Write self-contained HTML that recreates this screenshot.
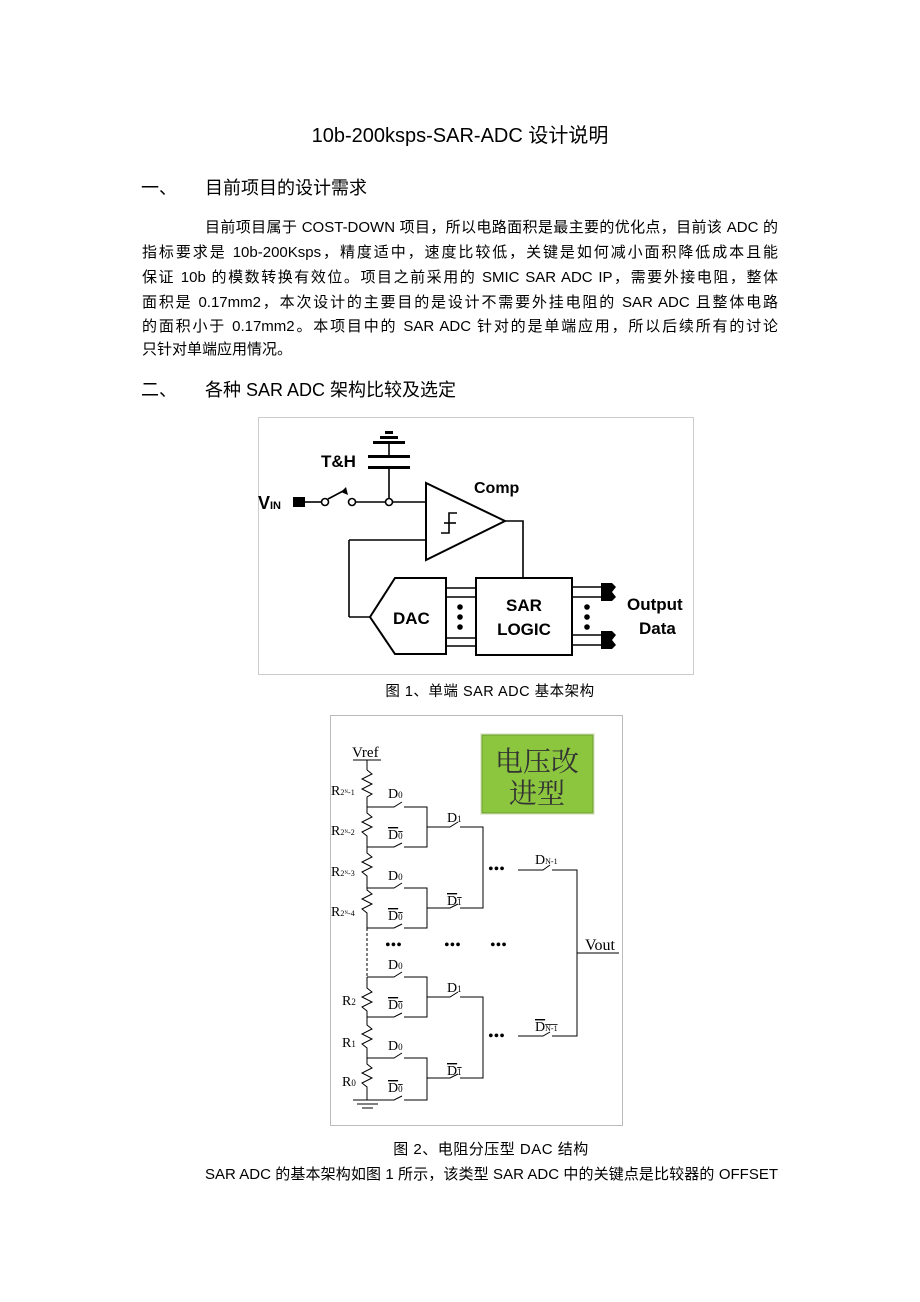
<!DOCTYPE html>
<html><head><meta charset="utf-8">
<style>
body{margin:0;width:920px;height:1302px;background:#fff;position:relative;font-family:"Liberation Sans","Noto Sans CJK SC",sans-serif;color:#000;overflow:hidden}
.t{position:absolute;white-space:nowrap;line-height:1}
.ln{position:absolute;left:142px;width:636px;font-size:15px;line-height:1;text-align:justify;text-align-last:justify;white-space:nowrap}
</style></head><body>
<div class="t" style="left:0;width:920px;text-align:center;top:126px;font-size:20px">10b-200ksps-SAR-ADC 设计说明</div>
<div class="t" style="left:141px;top:179px;font-size:18px">一、</div>
<div class="t" style="left:205px;top:179px;font-size:18px">目前项目的设计需求</div>
<div class="ln" style="top:220px;left:205px;width:573px">目前项目属于 COST-DOWN 项目，所以电路面积是最主要的优化点，目前该 ADC 的</div>
<div class="ln" style="top:245px">指标要求是 10b-200Ksps，精度适中，速度比较低，关键是如何减小面积降低成本且能</div>
<div class="ln" style="top:270px">保证 10b 的模数转换有效位。项目之前采用的 SMIC SAR ADC IP，需要外接电阻，整体</div>
<div class="ln" style="top:295px">面积是 0.17mm2，本次设计的主要目的是设计不需要外挂电阻的 SAR ADC 且整体电路</div>
<div class="ln" style="top:319px">的面积小于 0.17mm2。本项目中的 SAR ADC 针对的是单端应用，所以后续所有的讨论</div>
<div class="t" style="top:342px;left:142px;font-size:15px">只针对单端应用情况。</div>
<div class="t" style="left:141px;top:381px;font-size:18px">二、</div>
<div class="t" style="left:205px;top:381px;font-size:18px">各种 SAR ADC 架构比较及选定</div>

<svg style="position:absolute;left:0;top:0" width="920" height="1302" font-family="Liberation Sans, sans-serif">
<!-- fig1 -->
<rect x="258.5" y="417.5" width="435" height="257" fill="none" stroke="#ccc"/>
<g stroke="#000" stroke-width="1.6" fill="none">
<line x1="305" y1="502" x2="321" y2="502"/>
<circle cx="325" cy="502" r="3.5" fill="#fff"/>
<line x1="328" y1="499" x2="345" y2="490"/>
<circle cx="352" cy="502" r="3.5" fill="#fff"/>
<line x1="356" y1="502" x2="385" y2="502"/>
<circle cx="389" cy="502" r="3.5" fill="#fff"/>
<line x1="393" y1="502" x2="426" y2="502"/>
<line x1="389" y1="498" x2="389" y2="468"/>
<line x1="389" y1="457" x2="389" y2="443"/>
<line x1="349" y1="540" x2="426" y2="540"/>
<line x1="349" y1="540" x2="349" y2="617"/>
<line x1="349" y1="617" x2="370" y2="617"/>
<polyline points="505,521 523,521 523,578"/>
<polygon points="426,483 426,560 505,521" stroke-width="2"/>
<polyline points="441,533 449,533 449,513 457,513"/>
<line x1="444" y1="523" x2="456" y2="523"/>
<polygon points="370,617 395,578 446,578 446,654 395,654" stroke-width="2"/>
<rect x="476" y="578" width="96" height="77" stroke-width="2"/>
<line x1="446" y1="588" x2="476" y2="588"/><line x1="446" y1="597" x2="476" y2="597"/>
<line x1="446" y1="638" x2="476" y2="638"/><line x1="446" y1="646" x2="476" y2="646"/>
<line x1="572" y1="587" x2="602" y2="587"/><line x1="572" y1="597" x2="602" y2="597"/>
<line x1="572" y1="635" x2="602" y2="635"/><line x1="572" y1="645" x2="602" y2="645"/>
</g>
<g fill="#000">
<rect x="293" y="497" width="12" height="10"/>
<polygon points="346,487 348,495 341,492"/>
<rect x="368" y="466" width="42" height="3"/><rect x="368" y="455" width="42" height="3"/>
<rect x="373" y="441" width="32" height="3"/><rect x="380" y="436" width="18" height="3"/><rect x="385" y="431" width="8" height="3"/>
<circle cx="460" cy="607" r="2.8"/><circle cx="460" cy="617" r="2.8"/><circle cx="460" cy="627" r="2.8"/>
<circle cx="587" cy="607" r="2.8"/><circle cx="587" cy="617" r="2.8"/><circle cx="587" cy="627" r="2.8"/>
<polygon points="601,583 612,583 616,587 612,592 616,597 612,601 601,601"/>
<polygon points="601,631 612,631 616,635 612,640 616,645 612,649 601,649"/>
<text x="258" y="509" font-size="18" font-weight="bold">V</text><text x="270" y="509" font-size="11" font-weight="bold">IN</text>
<text x="321" y="467" font-size="17" font-weight="bold">T&amp;H</text>
<text x="474" y="493" font-size="16" font-weight="bold">Comp</text>
<text x="393" y="624" font-size="17" font-weight="bold">DAC</text>
<text x="524" y="611" font-size="17" font-weight="bold" text-anchor="middle">SAR</text>
<text x="524" y="635" font-size="17" font-weight="bold" text-anchor="middle">LOGIC</text>
<text x="627" y="610" font-size="17" font-weight="bold">Output</text>
<text x="639" y="634" font-size="17" font-weight="bold">Data</text>
</g>
<text x="490" y="696" font-size="14.5" text-anchor="middle" letter-spacing="0.5" font-family="Liberation Sans, Noto Sans CJK SC, sans-serif">图 1、单端 SAR ADC 基本架构</text>

<!-- fig2 -->
<rect x="330.5" y="715.5" width="292" height="410" fill="none" stroke="#bbb"/>
<rect x="480" y="733" width="115" height="82" fill="#e6eed8"/>
<rect x="482" y="735" width="111" height="78" fill="#8cc63f" stroke="#6a9a2a"/>
<g font-family="Liberation Serif, Noto Serif CJK SC, serif" font-size="28" fill="#333">
<text x="537" y="771" text-anchor="middle">电压改</text><text x="537" y="803" text-anchor="middle">进型</text>
</g>
<g stroke="#000" stroke-width="1" fill="none">
<line x1="353" y1="760" x2="381" y2="760"/>
<line x1="367" y1="760" x2="367" y2="770"/>
<polyline points="367,770 372,774 362,779 372,784 362,789 372,794 367,797 367,813 372,817 362,822 372,827 362,832 367,836 367,853 372,857 362,862 372,867 362,872 367,876 367,890 372,894 362,899 372,904 362,909 367,913 367,928"/>
<line x1="367" y1="928" x2="367" y2="977" stroke-dasharray="3,2"/>
<polyline points="367,977 367,988 372,992 362,997 372,1002 362,1007 367,1011 367,1025 372,1029 362,1034 372,1039 362,1044 367,1048 367,1064 372,1068 362,1073 372,1078 362,1083 367,1087 367,1100"/>
<line x1="353" y1="1100" x2="382" y2="1100"/><line x1="357" y1="1104" x2="378" y2="1104"/><line x1="362" y1="1108" x2="373" y2="1108"/>
<path d="M367 807H394L402 802M404 807H427V847H404M402 843L394 847H367"/>
<path d="M367 888H394L402 883M404 888H427V928H404M402 924L394 928H367"/>
<path d="M367 977H394L402 972M404 977H427V1017H404M402 1013L394 1017H367"/>
<path d="M367 1058H394L402 1053M404 1058H427V1100H404M402 1096L394 1100H367"/>
<path d="M427 827H450L458 822M460 827H483V908H460M458 904L450 908H427"/>
<path d="M427 997H450L458 992M460 997H483V1078H460M458 1074L450 1078H427"/>
<path d="M518 870H543L550 865M552 870H577V1036H552M550 1032L543 1036H518"/>
<line x1="577" y1="953" x2="619" y2="953"/>
</g>
<g font-family="Liberation Serif, serif" font-size="14" fill="#000">
<text x="352" y="757" font-size="15">Vref</text>
<text x="331" y="795">R<tspan font-size="8">2ᴺ-1</tspan></text>
<text x="331" y="835">R<tspan font-size="8">2ᴺ-2</tspan></text>
<text x="331" y="876">R<tspan font-size="8">2ᴺ-3</tspan></text>
<text x="331" y="916">R<tspan font-size="8">2ᴺ-4</tspan></text>
<text x="342" y="1005">R<tspan font-size="9">2</tspan></text>
<text x="342" y="1047">R<tspan font-size="9">1</tspan></text>
<text x="342" y="1086">R<tspan font-size="9">0</tspan></text>
<text x="388" y="798">D<tspan font-size="9">0</tspan></text><text x="388" y="839" text-decoration="overline">D<tspan font-size="9">0</tspan></text>
<text x="388" y="880">D<tspan font-size="9">0</tspan></text><text x="388" y="920" text-decoration="overline">D<tspan font-size="9">0</tspan></text>
<text x="388" y="969">D<tspan font-size="9">0</tspan></text><text x="388" y="1009" text-decoration="overline">D<tspan font-size="9">0</tspan></text>
<text x="388" y="1050">D<tspan font-size="9">0</tspan></text><text x="388" y="1092" text-decoration="overline">D<tspan font-size="9">0</tspan></text>
<text x="447" y="822">D<tspan font-size="9">1</tspan></text><text x="447" y="905" text-decoration="overline">D<tspan font-size="9">1</tspan></text>
<text x="447" y="992">D<tspan font-size="9">1</tspan></text><text x="447" y="1075" text-decoration="overline">D<tspan font-size="9">1</tspan></text>
<text x="535" y="864">D<tspan font-size="8">N-1</tspan></text><text x="535" y="1031" text-decoration="overline">D<tspan font-size="8">N-1</tspan></text>
<text x="585" y="950" font-size="16">Vout</text>
<text x="488" y="874" font-size="16">•••</text>
<text x="488" y="1041" font-size="16">•••</text>
<text x="385" y="950" font-size="16">•••</text>
<text x="444" y="950" font-size="16">•••</text>
<text x="490" y="950" font-size="16">•••</text>
</g>
<text x="491" y="1154" font-size="15" text-anchor="middle" letter-spacing="0.5" font-family="Liberation Sans, Noto Sans CJK SC, sans-serif">图 2、电阻分压型 DAC 结构</text>
</svg>
<div class="ln" style="left:205px;width:573px;top:1167px">SAR ADC 的基本架构如图 1 所示，该类型 SAR ADC 中的关键点是比较器的 OFFSET</div>
</body></html>
